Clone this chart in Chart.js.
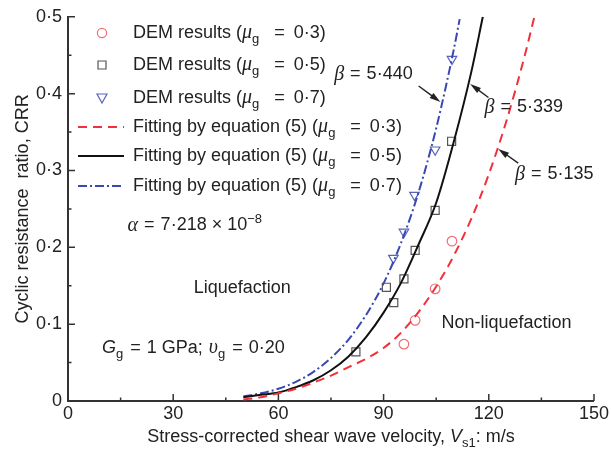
<!DOCTYPE html>
<html>
<head>
<meta charset="utf-8">
<script src="https://cdn.jsdelivr.net/npm/chart.js@4/dist/chart.umd.min.js"></script>
<style>
  body { margin: 0; background: #fff; }
  canvas { display: block; }
</style>
</head>
<body>
<canvas id="chart" width="611" height="452"></canvas>
<script>
// ====== DATA ======
// DEM results: stress-corrected shear wave velocity Vs1 (m/s) and CRR
const demVs03 = [95.8, 99.0, 104.7, 109.5];
const demCrr03 = [0.074, 0.105, 0.146, 0.208];
const demVs05 = [82.1, 90.8, 92.9, 95.8, 99.0, 104.7, 109.4];
const demCrr05 = [0.064, 0.148, 0.128, 0.159, 0.196, 0.248, 0.338];
const demVs07 = [92.8, 95.8, 98.8, 104.7, 109.5];
const demCrr07 = [0.186, 0.220, 0.268, 0.327, 0.445];

// Fitted curves, equation (5), sampled from the figure
const fitVs03 = [50, 55, 60, 65, 70, 75, 80, 85, 90, 95, 100, 105, 110, 115, 120, 125, 130, 133];
const fitCrr03 = [0.002, 0.005, 0.010, 0.016, 0.024, 0.033, 0.044, 0.055, 0.069, 0.089, 0.116, 0.149, 0.189, 0.237, 0.295, 0.364, 0.445, 0.5];
const fitVs05 = [50, 55, 60, 65, 70, 75, 80, 85, 90, 95, 100, 105, 110, 115, 118.3];
const fitCrr05 = [0.005, 0.008, 0.011, 0.018, 0.027, 0.040, 0.058, 0.083, 0.115, 0.154, 0.204, 0.258, 0.337, 0.428, 0.5];
const fitVs07 = [50, 55, 60, 65, 70, 75, 80, 85, 90, 95, 100, 105, 110, 111.7];
const fitCrr07 = [0.006, 0.010, 0.016, 0.025, 0.038, 0.056, 0.080, 0.112, 0.153, 0.206, 0.272, 0.355, 0.457, 0.497];

const xTicks = [0, 30, 60, 90, 120, 150];
const yTicks = [0, 0.1, 0.2, 0.3, 0.4, 0.5];
// ========================================

const RED = "#f0303a";
const BLACK = "#111111";
const BLUE = "#3a48b0";
const TEXT = "#222222";
const SANS = '"Liberation Sans", Arial, sans-serif';
const SERIF = '"Liberation Serif", "Times New Roman", serif';

const toXY = (xs, ys) => xs.map((x, i) => ({ x, y: ys[i] }));

// Draw a run of text pieces; a number in the list is a blank gap in px
// styles: n = normal, g = greek italic serif, i = italic sans, sub / sup
function richText(ctx, x, y, parts, align) {
  const fonts = {
    n: ["18px " + SANS, 0],
    g: ["italic 20px " + SERIF, 0],
    i: ["italic 18px " + SANS, 0],
    sub: ["13px " + SANS, 6],
    sup: ["13px " + SANS, -6],
  };
  const width = (p) => {
    if (typeof p === "number") return p;
    ctx.font = fonts[p[1]][0];
    return ctx.measureText(p[0]).width;
  };
  const total = parts.reduce((a, p) => a + width(p), 0);
  let cx = align === "center" ? x - total / 2 : x;
  ctx.textAlign = "left";
  ctx.textBaseline = "middle";
  ctx.fillStyle = TEXT;
  for (const p of parts) {
    if (typeof p !== "number") {
      ctx.font = fonts[p[1]][0];
      ctx.fillText(p[0], cx, y + fonts[p[1]][1]);
    }
    cx += width(p);
  }
}

function arrow(ctx, x1, y1, x2, y2) {
  const a = Math.atan2(y2 - y1, x2 - x1);
  const c = Math.cos(a), s = Math.sin(a);
  ctx.save();
  ctx.strokeStyle = TEXT;
  ctx.fillStyle = TEXT;
  ctx.lineWidth = 1.4;
  ctx.beginPath();
  ctx.moveTo(x1, y1);
  ctx.lineTo(x2 - 7 * c, y2 - 7 * s);
  ctx.stroke();
  ctx.beginPath();
  ctx.moveTo(x2, y2);
  ctx.lineTo(x2 - 11 * c + 3.2 * s, y2 - 11 * s - 3.2 * c);
  ctx.lineTo(x2 - 11 * c - 3.2 * s, y2 - 11 * s + 3.2 * c);
  ctx.closePath();
  ctx.fill();
  ctx.restore();
}

function marker(ctx, style, x, y, color) {
  ctx.save();
  ctx.strokeStyle = color;
  ctx.lineWidth = 1.2;
  ctx.beginPath();
  if (style === "circle") {
    ctx.arc(x, y, 4.6, 0, Math.PI * 2);
  } else if (style === "rect") {
    ctx.rect(x - 4, y - 4, 8, 8);
  } else {
    ctx.moveTo(x - 5, y - 4);
    ctx.lineTo(x + 5, y - 4);
    ctx.lineTo(x, y + 5);
    ctx.closePath();
  }
  ctx.stroke();
  ctx.restore();
}

const overlay = {
  id: "overlay",
  afterDraw(chart) {
    const ctx = chart.ctx;
    const xs = chart.scales.x;
    const ys = chart.scales.y;
    const area = chart.chartArea;
    const px = (v) => xs.getPixelForValue(v);
    const py = (v) => ys.getPixelForValue(v);

    // inward tick marks, major and minor
    ctx.save();
    ctx.strokeStyle = "#333";
    ctx.lineWidth = 1.5;
    ctx.beginPath();
    for (let v = 0; v <= 150; v += 15) {
      const len = v % 30 === 0 ? 7 : 3.5;
      ctx.moveTo(px(v), area.bottom);
      ctx.lineTo(px(v), area.bottom - len);
    }
    for (let v = 0; v <= 0.5001; v += 0.05) {
      const len = Math.round(v * 100) % 10 === 0 ? 7 : 3.5;
      ctx.moveTo(area.left, py(v));
      ctx.lineTo(area.left + len, py(v));
    }
    ctx.stroke();
    ctx.restore();

    // legend
    const rows = [33, 65, 98, 127, 156, 186];
    const mus = ["0·3", "0·5", "0·7"];
    const mk = [["circle", "#ee6f74"], ["rect", "#555"], ["tri", "#5663bf"]];
    const muPart = (m) => [["μ", "g"], ["g", "sub"], 15, ["=", "n"], 9, [m + ")", "n"]];
    for (let i = 0; i < 3; i++) {
      marker(ctx, mk[i][0], 102, rows[i], mk[i][1]);
      richText(ctx, 133, rows[i], [["DEM results (", "n"], ...muPart(mus[i])]);
    }
    const lineStyles = [[RED, [9, 6]], [BLACK, []], [BLUE, [9, 3, 2, 3]]];
    for (let i = 0; i < 3; i++) {
      const y = rows[i + 3];
      ctx.save();
      ctx.strokeStyle = lineStyles[i][0];
      ctx.lineWidth = 2;
      ctx.setLineDash(lineStyles[i][1]);
      ctx.beginPath();
      ctx.moveTo(78, y);
      ctx.lineTo(124, y);
      ctx.stroke();
      ctx.restore();
      richText(ctx, 133, y, [["Fitting by equation (5) (", "n"], ...muPart(mus[i])]);
    }

    // annotations
    const beta = (b) => [["β", "g"], 6, ["=", "n"], 6, [b, "n"]];
    richText(ctx, px(75.9), py(0.425), beta("5·440"));
    arrow(ctx, px(100), py(0.41), px(106.2), py(0.389));
    richText(ctx, px(118.8), py(0.382), beta("5·339"));
    arrow(ctx, px(119.9), py(0.395), px(114.7), py(0.4126));
    richText(ctx, px(127.5), py(0.295), beta("5·135"));
    arrow(ctx, px(128.4), py(0.3095), px(122.7), py(0.328));

    richText(ctx, px(17), py(0.2286), [["α", "g"], 6, ["=", "n"], 6, ["7·218", "n"], 5, ["×", "n"], 5, ["10", "n"], ["−8", "sup"]]);
    richText(ctx, px(49.7), py(0.147), [["Liquefaction", "n"]], "center");
    richText(ctx, px(9.7), py(0.069), [["G", "i"], ["g", "sub"], 7, ["=", "n"], 6, ["1 GPa;", "n"], 6, ["υ", "g"], ["g", "sub"], 7, ["=", "n"], 6, ["0·20", "n"]]);
    richText(ctx, px(106.5), py(0.101), [["Non-liquefaction", "n"]]);

    // axis titles
    richText(ctx, (area.left + area.right) / 2, 437, [["Stress-corrected shear wave velocity, ", "n"], ["V", "i"], ["s1", "sub"], [": m/s", "n"]], "center");
    ctx.save();
    ctx.translate(23, (area.top + area.bottom) / 2);
    ctx.rotate(-Math.PI / 2);
    richText(ctx, 0, 0, [["Cyclic resistance  ratio, CRR", "n"]], "center");
    ctx.restore();
  },
};

const fmt = (v) => (v === 0 ? "0" : v.toFixed(1).replace(".", "·"));

new Chart(document.getElementById("chart"), {
  type: "line",
  data: {
    datasets: [
      { label: "fit03", data: toXY(fitVs03, fitCrr03), borderColor: RED, borderWidth: 2, borderDash: [9, 6], pointRadius: 0, cubicInterpolationMode: "monotone", fill: false },
      { label: "fit05", data: toXY(fitVs05, fitCrr05), borderColor: BLACK, borderWidth: 2, pointRadius: 0, cubicInterpolationMode: "monotone", fill: false },
      { label: "fit07", data: toXY(fitVs07, fitCrr07), borderColor: BLUE, borderWidth: 2, borderDash: [9, 3, 2, 3], pointRadius: 0, cubicInterpolationMode: "monotone", fill: false },
      { label: "dem03", data: toXY(demVs03, demCrr03), showLine: false, pointStyle: "circle", pointRadius: 4.8, borderWidth: 1.2, borderColor: "#ee6f74", backgroundColor: "rgba(0,0,0,0)" },
      { label: "dem05", data: toXY(demVs05, demCrr05), showLine: false, pointStyle: "rect", pointRadius: 5.7, borderWidth: 1.2, borderColor: "#555", backgroundColor: "rgba(0,0,0,0)" },
      { label: "dem07", data: toXY(demVs07, demCrr07), showLine: false, pointStyle: "triangle", rotation: 180, pointRadius: 5.5, borderWidth: 1.2, borderColor: "#5663bf", backgroundColor: "rgba(0,0,0,0)" },
    ],
  },
  options: {
    responsive: false,
    animation: false,
    layout: { padding: { top: 16, right: 15, left: 0, bottom: 0 } },
    plugins: { legend: { display: false }, tooltip: { enabled: false } },
    scales: {
      x: {
        type: "linear",
        min: 0,
        max: 150,
        afterBuildTicks: (s) => { s.ticks = xTicks.map((v) => ({ value: v })); },
        afterFit: (s) => { s.height = 51; },
        ticks: { color: TEXT, font: { family: SANS, size: 18 }, padding: 2, maxRotation: 0 },
        grid: { display: false, drawTicks: false },
        border: { display: true, color: "#333", width: 2 },
      },
      y: {
        min: 0,
        max: 0.5,
        afterBuildTicks: (s) => { s.ticks = yTicks.map((v) => ({ value: v })); },
        afterFit: (s) => { s.width = 68; },
        ticks: { color: TEXT, font: { family: SANS, size: 18 }, padding: 6, callback: fmt },
        grid: { display: false, drawTicks: false },
        border: { display: true, color: "#333", width: 2 },
      },
    },
  },
  plugins: [overlay],
});
</script>
</body>
</html>
